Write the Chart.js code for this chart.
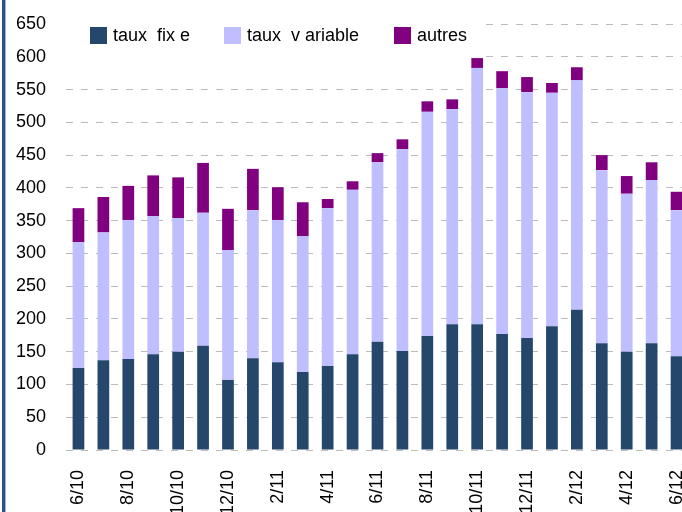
<!DOCTYPE html>
<html>
<head>
<meta charset="utf-8">
<script src="https://cdn.jsdelivr.net/npm/chart.js@4/dist/chart.umd.min.js"></script>
<style>
  html, body { margin: 0; padding: 0; background: #fff; overflow: hidden; }
  #wrap { position: relative; width: 682px; height: 512px; overflow: hidden; }
  #wrap canvas { position: absolute; left: 0; top: 0; }
  #edge { position: absolute; left: 2px; top: 0; width: 3px; height: 512px; background: #2e5183; border-right: 1px solid #9db4d4; }
</style>
</head>
<body>
<div id="wrap">
  <canvas id="chart" width="689" height="530"></canvas>
  <div id="edge"></div>
</div>
<script>
const months = ['6/10', '7/10', '8/10', '9/10', '10/10', '11/10', '12/10',
  '1/11', '2/11', '3/11', '4/11', '5/11', '6/11', '7/11', '8/11', '9/11', '10/11', '11/11', '12/11',
  '1/12', '2/12', '3/12', '4/12', '5/12', '6/12'];

const tauxFixe = [125, 137, 139, 146, 150, 159, 107, 140, 134, 119, 128, 146, 165,
  151, 174, 192, 192, 177, 171, 189, 214, 163, 150, 163, 143];
const tauxVariable = [192, 195, 212, 211, 204, 203, 198, 226, 217, 207, 241, 251, 274,
  308, 342, 328, 391, 375, 375, 356, 350, 264, 241, 249, 223];
const autres = [52, 54, 52, 62, 62, 76, 63, 63, 50, 52, 14, 13, 14,
  15, 16, 15, 15, 26, 23, 15, 20, 23, 27, 27, 28];

const seriesNames = ['taux  fix e', 'taux  v ariable', 'autres'];
const yMax = 650;
const yStep = 50;

const font = { family: '"Liberation Sans", Arial, sans-serif', size: 18 };

// legend sits inside the plot, on a white patch that hides the top grid lines
const legendBox = {
  id: 'legendBox',
  beforeDatasetsDraw(chart) {
    const { ctx, chartArea } = chart;
    ctx.save();
    ctx.fillStyle = '#fff';
    ctx.fillRect(chartArea.left, 0, 481 - chartArea.left, 72);
    ctx.restore();
  },
  afterDraw(chart) {
    const ctx = chart.ctx;
    const xs = [90, 224, 394];
    ctx.save();
    ctx.font = font.size + 'px ' + font.family;
    ctx.textBaseline = 'middle';
    chart.data.datasets.forEach((ds, i) => {
      ctx.fillStyle = ds.backgroundColor;
      ctx.fillRect(xs[i], 27, 17, 17);
      ctx.fillStyle = '#000';
      ctx.fillText(ds.label, xs[i] + 23, 36);
    });
    ctx.restore();
  }
};

new Chart(document.getElementById('chart'), {
  type: 'bar',
  data: {
    labels: months,
    datasets: [
      { label: seriesNames[0], data: tauxFixe, backgroundColor: '#24476b' },
      { label: seriesNames[1], data: tauxVariable, backgroundColor: '#bfbfff' },
      { label: seriesNames[2], data: autres, backgroundColor: '#800080' },
    ],
  },
  options: {
    responsive: false,
    animation: false,
    devicePixelRatio: 1,
    layout: { padding: { top: 24, right: 0, left: 0, bottom: 0 } },
    datasets: { bar: { categoryPercentage: 1, barPercentage: 0.47 } },
    plugins: { legend: { display: false }, tooltip: { enabled: false } },
    scales: {
      x: {
        stacked: true,
        grid: { display: false },
        border: { display: false },
        ticks: {
          color: '#000',
          font: font,
          autoSkip: false,
          minRotation: 90,
          maxRotation: 90,
          padding: 12,
          callback: (v, i) => (i % 2 === 0 ? months[i] : ''),
        },
        afterFit: s => { s.height = 80; s.paddingLeft = 0; s.paddingRight = 0; },
      },
      y: {
        stacked: true,
        min: 0,
        max: yMax,
        grid: { color: '#bcbcbc', lineWidth: 1, drawTicks: false },
        border: { display: false, dash: [7, 8] },
        ticks: { stepSize: yStep, color: '#000', font: font, padding: 20 },
        afterFit: s => { s.width = 66; s.paddingTop = 0; s.paddingBottom = 0; },
      },
    },
  },
  plugins: [legendBox],
});
</script>
</body>
</html>
